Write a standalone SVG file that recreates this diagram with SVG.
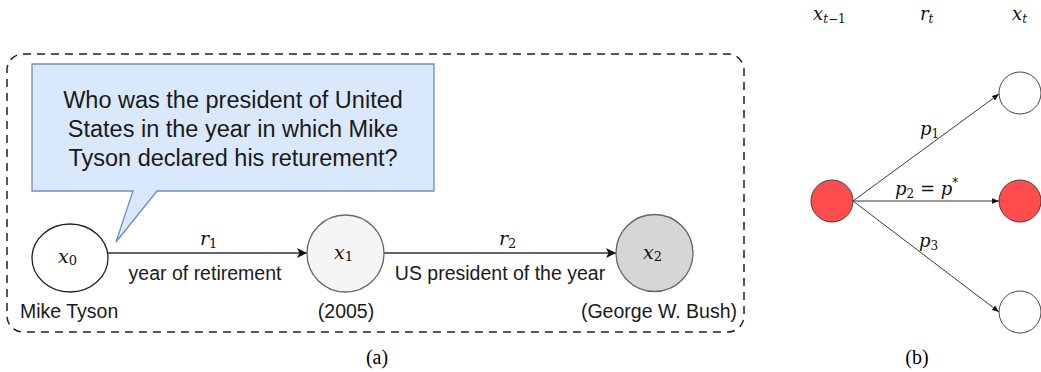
<svg xmlns="http://www.w3.org/2000/svg" width="1041" height="372" viewBox="0 0 1041 372">
<style>
.sans{font-family:"Liberation Sans",Arial,sans-serif;fill:#1a1a1a}
.lbl{font-size:19.5px}
.q{font-size:23.5px;text-anchor:middle}
.m{font-family:"DejaVu Serif","Liberation Serif",serif;font-style:italic;fill:#111}
.cap{font-family:"Liberation Serif","Times New Roman",serif;font-size:20px;fill:#000;text-anchor:middle}
.conn{stroke:#333;stroke-width:1.5;fill:none}
.thin{stroke:#222;stroke-width:0.9;fill:none}
</style>
<defs>
<marker id="ah" viewBox="0 0 10 10" refX="10" refY="5" markerWidth="10" markerHeight="10" markerUnits="userSpaceOnUse" orient="auto">
<path d="M0,0 L10,5 L0,10 L2.5,5 Z" fill="#111"/>
</marker>
<marker id="ah2" viewBox="0 0 10 10" refX="10" refY="5" markerWidth="7" markerHeight="7" markerUnits="userSpaceOnUse" orient="auto">
<path d="M0,1 L10,5 L0,9 Z" fill="#111"/>
</marker>
</defs>
<rect width="1041" height="372" fill="#fff"/>

<g id="frame">
<rect x="7" y="54" width="737" height="278" rx="16" ry="16" fill="none" stroke="#222" stroke-width="1.5" stroke-dasharray="8 6"/>
</g>

<g id="bubble">
<path d="M32,64 H434 V191 H157 L116,242 L133,191 H32 Z" fill="#dae8fc" stroke="#6c8ebf" stroke-width="1.3"/>
<text class="sans q" x="233" y="108">Who was the president of United</text>
<text class="sans q" x="233" y="137">States in the year in which Mike</text>
<text class="sans q" x="233" y="166">Tyson declared his returement?</text>
</g>

<g id="connectors">
<line class="conn" x1="108" y1="253" x2="307" y2="253" marker-end="url(#ah)"/>
<line class="conn" x1="384" y1="253" x2="616" y2="253" marker-end="url(#ah)"/>
<line class="thin" x1="853" y1="201" x2="999" y2="94" marker-end="url(#ah2)"/>
<line class="thin" x1="853" y1="201" x2="999" y2="201" marker-end="url(#ah2)"/>
<line class="thin" x1="853" y1="201" x2="999" y2="312" marker-end="url(#ah2)"/>
<text class="m" x="200" y="245" font-size="19">r<tspan font-size="13" font-style="normal" dy="3">1</tspan></text>
<text class="sans lbl" x="205" y="280" text-anchor="middle">year of retirement</text>
<text class="m" x="499" y="245" font-size="19">r<tspan font-size="13" font-style="normal" dy="3">2</tspan></text>
<text class="sans lbl" x="500" y="280" text-anchor="middle">US president of the year</text>
<text class="m" x="920" y="135" font-size="18">p<tspan font-size="12" font-style="normal" dy="3">1</tspan></text>
<text class="m" x="895" y="195" font-size="18">p<tspan font-size="12" font-style="normal" dy="3">2</tspan><tspan font-style="normal" dy="-3"> = </tspan>p<tspan font-size="12" font-style="normal" dy="-8">*</tspan></text>
<text class="m" x="919" y="247" font-size="18">p<tspan font-size="12" font-style="normal" dy="3">3</tspan></text>
</g>

<g id="x0">
<ellipse cx="70" cy="258" rx="38" ry="34" fill="#fff" stroke="#222" stroke-width="1.3"/>
<text class="m" x="58" y="263" font-size="19">x<tspan font-size="13" font-style="normal" dy="2">0</tspan></text>
<text class="sans lbl" x="20" y="318">Mike Tyson</text>
</g>

<g id="x1">
<circle cx="345.5" cy="253.5" r="38.5" fill="#f5f5f5" stroke="#666" stroke-width="1.3"/>
<text class="m" x="334" y="259" font-size="19" fill="#333">x<tspan font-size="13" font-style="normal" dy="2">1</tspan></text>
<text class="sans lbl" x="346" y="318" text-anchor="middle">(2005)</text>
</g>

<g id="x2">
<circle cx="654.5" cy="253" r="38.5" fill="#d6d6d6" stroke="#666" stroke-width="1.3"/>
<text class="m" x="643" y="259" font-size="19" fill="#333">x<tspan font-size="13" font-style="normal" dy="2">2</tspan></text>
<text class="sans lbl" x="737" y="318" text-anchor="end">(George W. Bush)</text>
</g>

<g id="headers">
<text class="m" x="813" y="20" font-size="18">x<tspan font-size="12" dy="3">t</tspan><tspan font-size="12" font-style="normal">−1</tspan></text>
<text class="m" x="920" y="20" font-size="18">r<tspan font-size="12" dy="3">t</tspan></text>
<text class="m" x="1012" y="20" font-size="18">x<tspan font-size="12" dy="3">t</tspan></text>
</g>

<g id="src">
<circle cx="832" cy="201" r="21" fill="#ff4d4d" stroke="#333" stroke-width="0.9"/>
</g>
<g id="t1">
<circle cx="1020" cy="93" r="21" fill="#fff" stroke="#333" stroke-width="0.9"/>
</g>
<g id="t2">
<circle cx="1020" cy="201" r="21" fill="#ff4d4d" stroke="#333" stroke-width="0.9"/>
</g>
<g id="t3">
<circle cx="1020" cy="312" r="21" fill="#fff" stroke="#333" stroke-width="0.9"/>
</g>

<g id="captions">
<text class="cap" x="377" y="364">(a)</text>
<text class="cap" x="917" y="364">(b)</text>
</g>
</svg>
